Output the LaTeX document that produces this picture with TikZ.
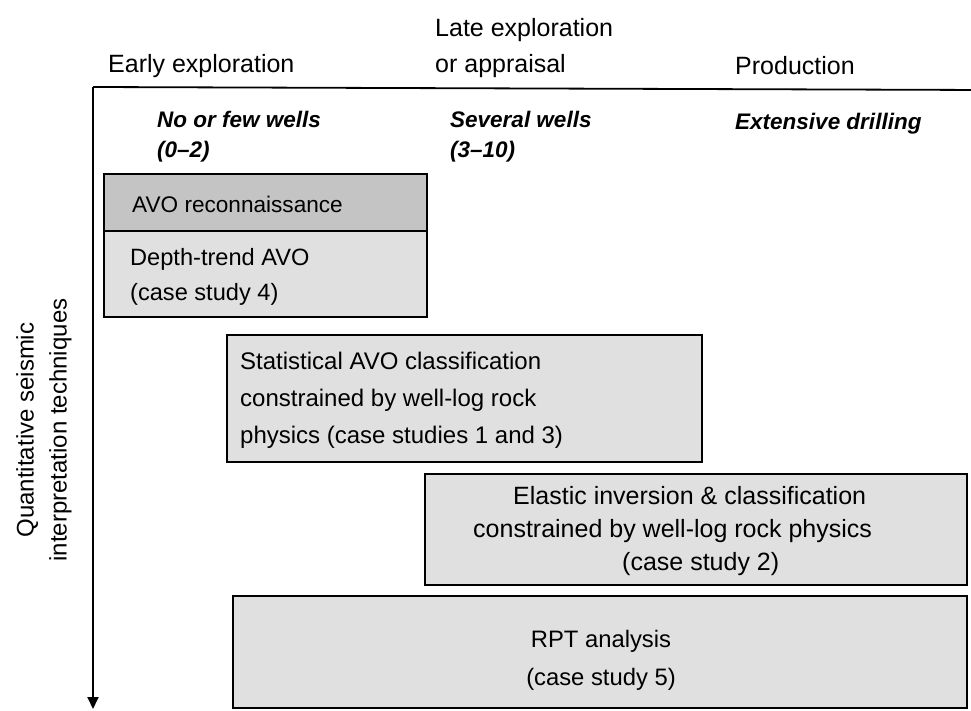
\documentclass[tikz,border=0pt]{standalone}
\usepackage{fontspec}
\setmainfont{Liberation Sans}
\usetikzlibrary{arrows.meta}
\begin{document}
\begin{tikzpicture}[x=1pt,y=-1pt,
  every node/.style={inner sep=0pt},
  phase/.style={anchor=base west, align=left, font=\fontsize{25}{36}\selectfont},
  wells/.style={anchor=base west, align=left, font=\fontsize{22.5}{30}\selectfont\bfseries\itshape},
  stage/.style={draw=black, line width=1.5pt, fill=black!12},
  stagedark/.style={draw=black, line width=1.5pt, fill=black!23},
  label/.style={anchor=base west, align=left},
  axis/.style={line width=1.8pt}]
\useasboundingbox (0,0) rectangle (971,711);

% column headings
\node[phase] (early) at (108,73) {Early exploration};
\node[phase] (late)  at (435,73) {Late exploration\\or appraisal};
\node[phase] (prod)  at (735,75) {Production};

% axes
\coordinate (origin) at (93,87);
\coordinate (xend) at (984,90);
\coordinate (yend) at (93,709);
\draw[axis, -{Triangle[length=12pt,width=11pt]}] (origin) -- (xend);
\draw[axis, -{Triangle[length=12pt,width=11pt]}] (origin) -- (yend);

% axis label
\node[rotate=90, align=center, font=\fontsize{24}{33}\selectfont] (ylab) at (44,430)
  {Quantitative seismic\\interpretation techniques};

% well counts
\node[wells] (few)  at (157,158) {No or few wells\\(0--2)};
\node[wells] (sev)  at (450,158) {Several wells\\(3--10)};
\node[wells] (ext)  at (735,130) {Extensive drilling};

% technique boxes
\draw[stagedark] (104,174) rectangle (427,231);
\draw[stage] (104,231) rectangle (427,317);
\node[label, font=\fontsize{22.6}{35}\selectfont] (recon) at (132,213) {AVO reconnaissance};
\node[label, font=\fontsize{23.6}{35}\selectfont] (depth) at (130,300) {Depth-trend AVO\\(case study 4)};

\draw[stage] (227,335) rectangle (702,462);
\node[label, font=\fontsize{24}{37}\selectfont] (stat) at (240,443)
  {Statistical AVO classification\\constrained by well-log rock\\physics (case studies 1 and 3)};

\draw[stage] (425,474) rectangle (967,585);
\node[label, font=\fontsize{25}{33}\selectfont] (elastic) at (473,570)
  {\hspace*{40pt}Elastic inversion \& classification\\constrained by well-log rock physics\\\hspace*{149pt}(case study 2)};

\draw[stage] (233,596) rectangle (967,708);
\node[align=center, anchor=base, font=\fontsize{23.8}{38}\selectfont] (rpt) at (601,685)
  {RPT analysis\\(case study 5)};
\end{tikzpicture}
\end{document}
